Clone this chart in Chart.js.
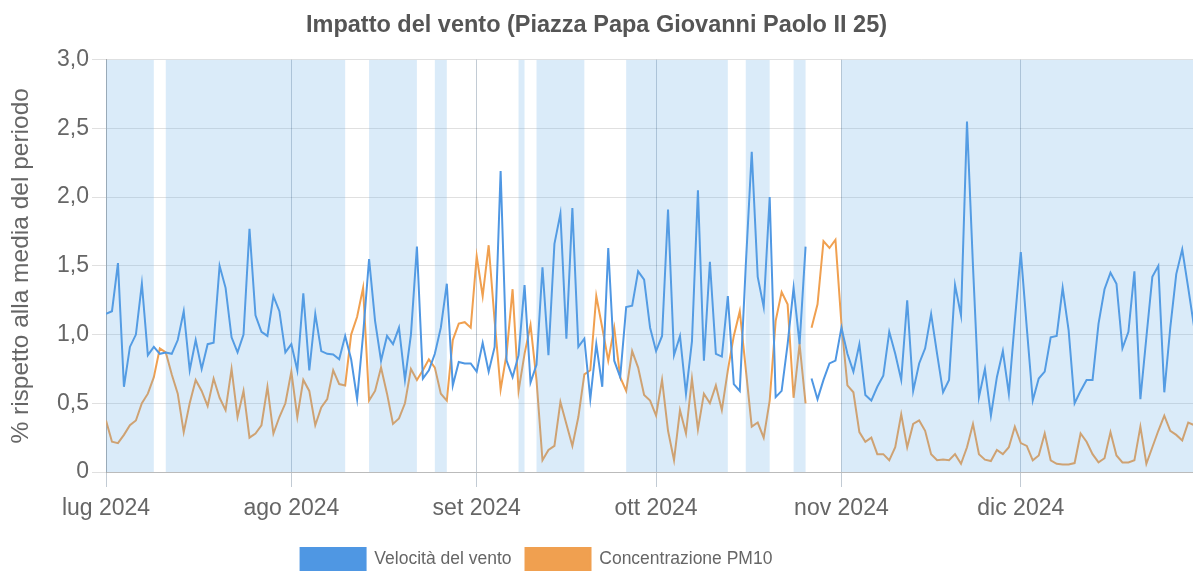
<!DOCTYPE html>
<html>
<head>
<meta charset="utf-8">
<title>Impatto del vento</title>
<style>
  html, body { margin: 0; padding: 0; background: #fff; }
</style>
<script src="https://cdn.jsdelivr.net/npm/chart.js@4.4.1/dist/chart.umd.min.js"></script>
</head>
<body>
<canvas id="chart" width="1193" height="571"></canvas>
<script>
// daily values from 1 Jul 2024 (day 0), % of period mean
const windSpeed = [
  1.15, 1.17, 1.52, 0.62, 0.91, 1.00, 1.37, 0.85, 0.91, 0.86,
  0.87, 0.86, 0.96, 1.17, 0.74, 0.96, 0.75, 0.93, 0.94, 1.50,
  1.34, 0.98, 0.87, 1.00, 1.77, 1.14, 1.02, 0.99, 1.28, 1.17,
  0.87, 0.93, 0.74, 1.30, 0.74, 1.15, 0.88, 0.86, 0.855, 0.82,
  0.99, 0.82, 0.53, 1.00, 1.55, 1.10, 0.81, 0.99, 0.93, 1.05,
  0.67, 1.00, 1.64, 0.68, 0.74, 0.86, 1.05, 1.37, 0.63, 0.80,
  0.79, 0.79, 0.73, 0.94, 0.73, 0.91, 2.19, 0.81, 0.69, 0.85,
  1.36, 0.65, 0.78, 1.49, 0.85, 1.66, 1.88, 0.97, 1.92, 0.91,
  0.97, 0.53, 0.93, 0.62, 1.63, 0.81, 0.69, 1.20, 1.21, 1.46,
  1.40, 1.05, 0.88, 0.99, 1.91, 0.85, 0.99, 0.57, 0.95, 2.05,
  0.81, 1.53, 0.86, 0.84, 1.28, 0.64, 0.59, 1.50, 2.33, 1.42,
  1.20, 2.00, 0.545, 0.59, 0.93, 1.34, 0.93, 1.64, 0.68, 0.53,
  0.67, 0.79, 0.81, 1.05, 0.86, 0.73, 0.93, 0.56, 0.52, 0.62,
  0.70, 1.02, 0.86, 0.67, 1.25, 0.59, 0.79, 0.90, 1.15, 0.86,
  0.58, 0.67, 1.36, 1.14, 2.55, 1.50, 0.545, 0.75, 0.41, 0.69,
  0.88, 0.57, 1.10, 1.60, 1.05, 0.52, 0.68, 0.73, 0.98, 0.99,
  1.34, 1.03, 0.50, 0.59, 0.67, 0.67, 1.08, 1.33, 1.45, 1.37,
  0.90, 1.02, 1.46, 0.53, 0.98, 1.42, 1.50, 0.58, 1.05, 1.44,
  1.62, 1.34, 1.05
];

const pm10 = [
  0.375, 0.22, 0.21, 0.27, 0.34, 0.375, 0.50, 0.57, 0.69, 0.90,
  0.87, 0.71, 0.57, 0.29, 0.50, 0.67, 0.59, 0.48, 0.68, 0.54,
  0.45, 0.75, 0.40, 0.59, 0.25, 0.28, 0.34, 0.62, 0.28, 0.40,
  0.50, 0.73, 0.40, 0.67, 0.59, 0.34, 0.47, 0.53, 0.74, 0.64,
  0.63, 1.00, 1.13, 1.34, 0.52, 0.59, 0.76, 0.57, 0.35, 0.39,
  0.50, 0.75, 0.67, 0.74, 0.82, 0.76, 0.57, 0.52, 0.96, 1.08,
  1.09, 1.05, 1.57, 1.28, 1.65, 1.10, 0.60, 0.86, 1.33, 0.59,
  0.86, 1.07, 0.67, 0.085, 0.16, 0.19, 0.51, 0.35, 0.19, 0.40,
  0.71, 0.74, 1.28, 1.05, 0.81, 1.05, 0.69, 0.59, 0.88, 0.76,
  0.56, 0.52, 0.41, 0.67, 0.30, 0.085, 0.45, 0.28, 0.68, 0.31,
  0.57, 0.50, 0.63, 0.45, 0.74, 0.99, 1.17, 0.75, 0.33, 0.36,
  0.25, 0.52, 1.10, 1.31, 1.22, 0.54, 0.93, 0.50, 1.05, 1.22,
  1.68, 1.63, 1.69, 1.08, 0.63, 0.58, 0.29, 0.22, 0.25, 0.13,
  0.13, 0.085, 0.18, 0.42, 0.18, 0.35, 0.375, 0.30, 0.13, 0.085,
  0.09, 0.085, 0.13, 0.06, 0.18, 0.35, 0.13, 0.09, 0.08, 0.16,
  0.13, 0.18, 0.33, 0.21, 0.19, 0.085, 0.12, 0.28, 0.085, 0.06,
  0.055, 0.055, 0.065, 0.28, 0.22, 0.13, 0.07, 0.10, 0.29, 0.12,
  0.07, 0.07, 0.085, 0.33, 0.06, 0.18, 0.30, 0.41, 0.30, 0.27,
  0.23, 0.36, 0.34
];

// missing reading between these days
const gapAfter = [117];

// shaded periods (day index start/end)
const bandStart = [0, 10, 44, 55, 69, 72, 87, 107, 115, 123];
const bandEnd = [8, 40, 52, 57, 70, 80, 104, 111, 117, 183];

const monthStarts = [0, 31, 62, 92, 123, 153];
const monthLabels = ["lug 2024", "ago 2024", "set 2024", "ott 2024", "nov 2024", "dic 2024"];

const days = windSpeed.map((_, i) => i);

const blue = "#4f97e3";
const orange = "#f0a050";
const FONT = "'Liberation Sans', Arial, sans-serif";

const gapSegment = {
  borderColor: (ctx) => (gapAfter.includes(ctx.p0DataIndex) ? "rgba(0,0,0,0)" : undefined),
};

const bandPlugin = {
  id: "bands",
  afterDatasetsDraw(chart) {
    const { ctx, chartArea, scales } = chart;
    const x = scales.x;
    ctx.save();
    ctx.beginPath();
    ctx.rect(chartArea.left, chartArea.top, chartArea.right - chartArea.left, chartArea.bottom - chartArea.top);
    ctx.clip();
    ctx.fillStyle = "rgba(100,170,230,0.24)";
    bandStart.forEach((s, i) => {
      const x0 = x.getPixelForValue(s);
      const x1 = x.getPixelForValue(bandEnd[i]);
      ctx.fillRect(x0, chartArea.top, x1 - x0, chartArea.bottom - chartArea.top);
    });
    ctx.restore();
  },
};

// legend sits a bit left of centre in the original
const legendShift = {
  id: "legendShift",
  afterLayout(chart) {
    chart.legend.left -= 60;
    chart.legend.right -= 60;
  },
};

new Chart(document.getElementById("chart"), {
  type: "line",
  data: {
    labels: days,
    datasets: [
      {
        label: "Velocità del vento",
        data: windSpeed,
        borderColor: blue,
        backgroundColor: blue,
        borderWidth: 2,
        pointRadius: 0,
        tension: 0,
        segment: gapSegment,
      },
      {
        label: "Concentrazione PM10",
        data: pm10,
        borderColor: orange,
        backgroundColor: orange,
        borderWidth: 2,
        pointRadius: 0,
        tension: 0,
        segment: gapSegment,
      },
    ],
  },
  options: {
    responsive: false,
    animation: false,
    layout: { padding: { left: 0, right: 0, top: 0, bottom: -9 } },
    plugins: {
      title: {
        display: true,
        text: "Impatto del vento (Piazza Papa Giovanni Paolo II 25)",
        color: "#555",
        font: { family: FONT, size: 23.5, weight: "bold" },
        padding: { top: 11, bottom: 20.5 },
      },
      legend: {
        position: "bottom",
        labels: {
          boxWidth: 65,
          boxHeight: 22,
          padding: 14,
          color: "#666",
          font: { family: FONT, size: 17.5 },
        },
      },
      tooltip: { enabled: false },
    },
    scales: {
      x: {
        type: "linear",
        min: 0,
        max: 181.8,
        afterBuildTicks: (axis) => {
          axis.ticks = monthStarts.map((v) => ({ value: v }));
        },
        afterFit: (axis) => {
          axis.height = 62;
        },
        ticks: {
          autoSkip: false,
          maxRotation: 0,
          padding: 8,
          color: "#666",
          font: { family: FONT, size: 23 },
          callback: (value) => monthLabels[monthStarts.indexOf(value)],
        },
        grid: {
          color: "rgba(120,140,160,0.45)",
          tickLength: 15,
        },
        border: { color: "#bbb" },
      },
      y: {
        min: 0,
        max: 3,
        afterFit: (axis) => {
          axis.width = 106;
        },
        ticks: {
          stepSize: 0.5,
          padding: 3,
          color: "#666",
          font: { family: FONT, size: 23 },
          callback: (v) => (v === 0 ? "0" : v.toFixed(1).replace(".", ",")),
        },
        grid: {
          color: "rgba(0,0,0,0.12)",
          tickLength: 14,
        },
        border: { color: "#aaa" },
        title: {
          display: true,
          text: "% rispetto alla media del periodo",
          color: "#666",
          font: { family: FONT, size: 24.5 },
          padding: { top: 7, bottom: 0 },
        },
      },
    },
  },
  plugins: [bandPlugin, legendShift],
});
</script>
</body>
</html>
